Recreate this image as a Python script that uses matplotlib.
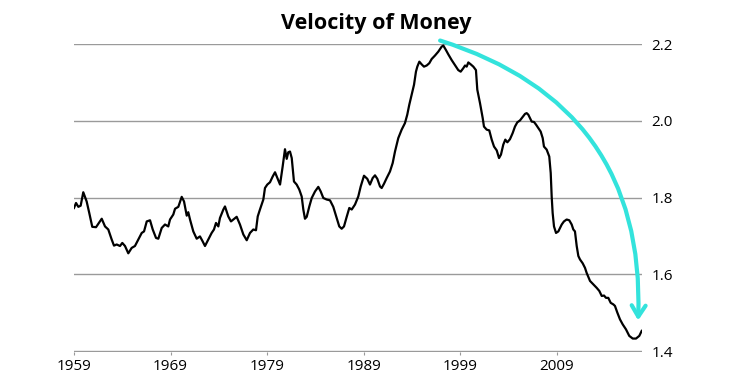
import matplotlib
matplotlib.use("Agg")
import matplotlib.pyplot as plt

plt.rcParams['font.family'] = ['Open Sans', 'DejaVu Sans']

# velocity of money (year, ratio)
years = [1959.00, 1959.21, 1959.45, 1959.69, 1959.96, 1960.31, 1960.58, 1960.89, 1961.28, 1961.87,
         1962.21, 1962.55, 1962.90, 1963.14, 1963.42, 1963.76, 1964.00, 1964.28, 1964.62, 1964.97,
         1965.31, 1965.66, 1966.01, 1966.25, 1966.53, 1966.87, 1967.15, 1967.49, 1967.73, 1968.08,
         1968.42, 1968.76, 1968.94, 1969.28, 1969.46, 1969.80, 1970.15, 1970.39, 1970.67, 1970.83,
         1971.01, 1971.35, 1971.70, 1972.04, 1972.32, 1972.56, 1972.90, 1973.25, 1973.49, 1973.70,
         1973.94, 1974.11, 1974.46, 1974.63, 1974.97, 1975.25, 1975.49, 1975.84, 1976.18, 1976.53,
         1976.88, 1977.22, 1977.56, 1977.84, 1978.02, 1978.25, 1978.60, 1978.77, 1979.01, 1979.29,
         1979.57, 1979.81, 1980.05, 1980.33, 1980.60, 1980.84, 1981.02, 1981.18, 1981.36, 1981.54,
         1981.77, 1982.05, 1982.32, 1982.57, 1982.74, 1982.91, 1983.09, 1983.36, 1983.61, 1983.95,
         1984.29, 1984.54, 1984.81, 1985.16, 1985.50, 1985.84, 1986.19, 1986.46, 1986.71, 1986.95,
         1987.23, 1987.50, 1987.75, 1988.09, 1988.43, 1988.68, 1989.02, 1989.36, 1989.64, 1989.92,
         1990.16, 1990.40, 1990.68, 1990.85, 1991.09, 1991.37, 1991.71, 1991.99, 1992.23, 1992.57,
         1992.92, 1993.26, 1993.50, 1993.71, 1993.96, 1994.20, 1994.40, 1994.54, 1994.75, 1994.99,
         1995.23, 1995.51, 1995.78, 1996.03, 1996.37, 1996.71, 1997.06, 1997.23, 1997.51, 1997.75,
         1998.10, 1998.44, 1998.78, 1999.03, 1999.30, 1999.48, 1999.65, 1999.82, 2000.07, 2000.34,
         2000.61, 2000.75, 2001.03, 2001.31, 2001.44, 2001.72, 2001.99, 2002.24, 2002.48, 2002.76,
         2003.00, 2003.20, 2003.44, 2003.65, 2003.86, 2004.13, 2004.41, 2004.65, 2004.89, 2005.17,
         2005.45, 2005.69, 2005.86, 2006.03, 2006.20, 2006.38, 2006.62, 2006.83, 2007.07, 2007.31,
         2007.52, 2007.65, 2007.93, 2008.20, 2008.35, 2008.45, 2008.55, 2008.69, 2008.90, 2009.14,
         2009.31, 2009.49, 2009.72, 2010.00, 2010.27, 2010.52, 2010.69, 2010.86, 2011.04, 2011.21,
         2011.38, 2011.66, 2011.90, 2012.07, 2012.24, 2012.42, 2012.76, 2013.11, 2013.38, 2013.63,
         2013.87, 2014.07, 2014.31, 2014.56, 2014.83, 2015.00, 2015.24, 2015.52, 2015.80, 2016.14,
         2016.48, 2016.84, 2017.18, 2017.52, 2017.77]
velocity = [1.773, 1.786, 1.776, 1.779, 1.814, 1.790, 1.760, 1.724, 1.723, 1.745,
            1.725, 1.717, 1.691, 1.675, 1.678, 1.674, 1.682, 1.674, 1.655, 1.669,
            1.674, 1.691, 1.708, 1.712, 1.738, 1.741, 1.717, 1.695, 1.693, 1.721,
            1.730, 1.725, 1.743, 1.756, 1.771, 1.776, 1.802, 1.790, 1.753, 1.762,
            1.743, 1.712, 1.693, 1.699, 1.686, 1.674, 1.691, 1.708, 1.717, 1.734,
            1.725, 1.747, 1.769, 1.777, 1.751, 1.738, 1.743, 1.750, 1.730, 1.704,
            1.689, 1.708, 1.717, 1.715, 1.751, 1.769, 1.795, 1.825, 1.834, 1.840,
            1.855, 1.866, 1.851, 1.834, 1.881, 1.926, 1.901, 1.918, 1.920, 1.903,
            1.842, 1.834, 1.821, 1.803, 1.769, 1.745, 1.750, 1.777, 1.799, 1.816,
            1.828, 1.816, 1.799, 1.795, 1.793, 1.776, 1.747, 1.725, 1.719, 1.725,
            1.750, 1.773, 1.769, 1.782, 1.803, 1.829, 1.857, 1.849, 1.834, 1.851,
            1.858, 1.849, 1.829, 1.825, 1.836, 1.851, 1.868, 1.890, 1.920, 1.955,
            1.977, 1.994, 2.016, 2.042, 2.068, 2.094, 2.128, 2.141, 2.154, 2.147,
            2.141, 2.144, 2.150, 2.161, 2.170, 2.180, 2.193, 2.196, 2.184, 2.173,
            2.158, 2.145, 2.132, 2.128, 2.137, 2.144, 2.141, 2.152, 2.147, 2.141,
            2.132, 2.081, 2.046, 2.007, 1.985, 1.977, 1.975, 1.951, 1.933, 1.923,
            1.903, 1.912, 1.938, 1.951, 1.944, 1.952, 1.968, 1.985, 1.996, 2.001,
            2.010, 2.018, 2.020, 2.016, 2.007, 1.998, 1.997, 1.990, 1.981, 1.972,
            1.955, 1.933, 1.925, 1.907, 1.864, 1.803, 1.760, 1.725, 1.708, 1.712,
            1.721, 1.730, 1.738, 1.743, 1.741, 1.730, 1.717, 1.712, 1.674, 1.648,
            1.639, 1.629, 1.617, 1.604, 1.594, 1.583, 1.574, 1.565, 1.557, 1.544,
            1.545, 1.539, 1.539, 1.526, 1.522, 1.518, 1.501, 1.483, 1.470, 1.457,
            1.440, 1.433, 1.433, 1.440, 1.453]

year_ticks = [1959, 1969, 1979, 1989, 1999, 2009]
value_ticks = [1.4, 1.6, 1.8, 2.0, 2.2]

# arrow from the 1997 peak down to the latest reading
arrow_start = (1996.9, 2.209)
arrow_end = (2017.4, 1.48)

fig = plt.figure(figsize=(7.52, 3.78), dpi=100)
ax = fig.add_axes([74 / 752, 26 / 378, 568 / 752, 308 / 378])

ax.plot(years, velocity, color='black', lw=1.6, zorder=3)

ax.set_xlim(1959, 2017.8)
ax.set_ylim(1.398, 2.2)
ax.set_xticks(year_ticks)
ax.set_xticklabels([str(y) for y in year_ticks])
ax.set_yticks(value_ticks)
ax.set_yticklabels(['%.1f' % v for v in value_ticks])
ax.yaxis.tick_right()
ax.tick_params(axis='y', length=0, pad=7, labelsize=11)
ax.tick_params(axis='x', length=2, color='#999999', pad=3, labelsize=11)
ax.grid(axis='y', color='#9a9a9a', lw=1)
ax.set_axisbelow(True)
for s in ax.spines.values():
    s.set_visible(False)

ax.annotate('', xy=arrow_end, xytext=arrow_start,
            arrowprops=dict(arrowstyle='->,head_length=0.8,head_width=0.5',
                            color='#33e3dc', lw=3,
                            connectionstyle='arc3,rad=-0.38',
                            shrinkA=0, shrinkB=0),
            zorder=4)

fig.text(0.5, 1 - 29.3 / 378, 'Velocity of Money', ha='center', va='baseline',
         fontsize=15.5, fontweight='bold')

fig.savefig('out.png', dpi=100)
